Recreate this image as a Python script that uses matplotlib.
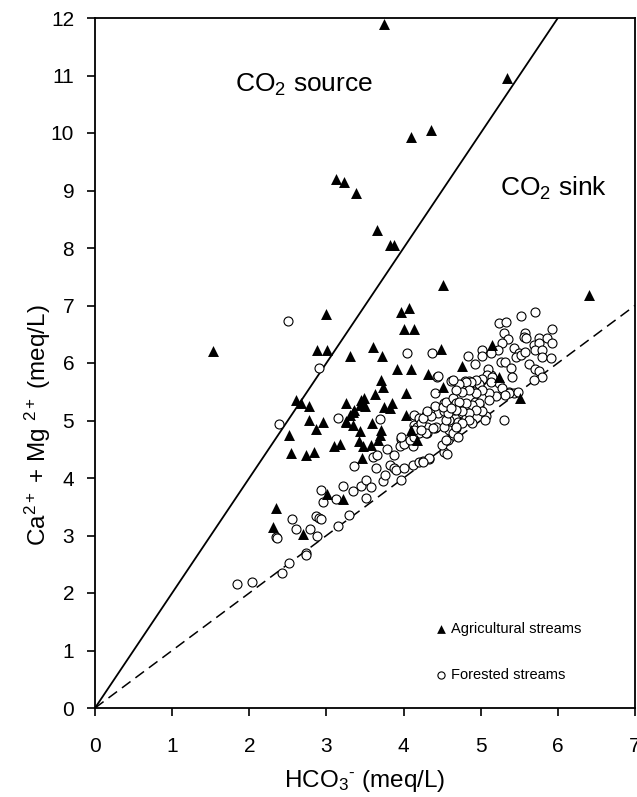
import matplotlib
matplotlib.use("Agg")
import matplotlib.pyplot as plt
import numpy as np

plt.rcParams['font.family'] = ['Liberation Sans', 'DejaVu Sans']
plt.rcParams['mathtext.fontset'] = 'custom'
plt.rcParams['mathtext.rm'] = 'Liberation Sans'
plt.rcParams['mathtext.it'] = 'Liberation Sans:italic'
plt.rcParams['mathtext.bf'] = 'Liberation Sans:bold'

# Agricultural streams (HCO3-, Ca2+ + Mg2+) in meq/L
agri_x = [3.75, 5.34, 4.36, 4.09, 3.13, 3.23, 3.38, 3.66, 3.82, 3.88,
          4.51, 6.40, 3.00, 3.97, 4.07, 4.01, 4.14, 1.53, 2.88, 3.01,
          3.30, 3.61, 3.72, 4.49, 5.14, 3.92, 4.09, 4.32, 4.76, 5.24,
          3.71, 3.73, 4.51, 4.03, 3.63, 5.51, 2.61, 2.67, 2.78, 3.26,
          3.45, 3.49, 3.43, 3.50, 3.75, 3.85, 3.82, 3.34, 3.30, 4.03,
          2.78, 2.95, 2.86, 3.26, 3.34, 3.59, 3.43, 3.71, 3.69, 4.10,
          2.51, 2.54, 2.74, 2.84, 3.10, 3.18, 3.42, 3.48, 3.58, 3.67,
          3.46, 4.17, 3.01, 3.22, 2.34, 2.31, 2.69, 3.36, 3.25]
agri_y = [11.90, 10.96, 10.05, 9.93, 9.20, 9.15, 8.96, 8.31, 8.05, 8.05,
          7.36, 7.18, 6.85, 6.88, 6.95, 6.59, 6.59, 6.21, 6.23, 6.23,
          6.12, 6.28, 6.13, 6.24, 6.31, 5.89, 5.89, 5.81, 5.95, 5.76,
          5.70, 5.58, 5.59, 5.47, 5.46, 5.40, 5.36, 5.31, 5.25, 5.31,
          5.36, 5.39, 5.27, 5.25, 5.24, 5.30, 5.21, 5.15, 5.10, 5.10,
          5.01, 4.98, 4.86, 4.98, 4.92, 4.96, 4.81, 4.83, 4.75, 4.84,
          4.75, 4.44, 4.40, 4.46, 4.56, 4.60, 4.64, 4.55, 4.57, 4.66,
          4.34, 4.66, 3.73, 3.63, 3.47, 3.14, 3.03, 5.18, 5.00]

# Forested streams
forest_pts = [
    (1.84, 2.16), (2.03, 2.19), (2.42, 2.35), (2.52, 2.52), (2.73, 2.69), (2.74, 2.66),
    (2.35, 2.97), (2.36, 2.95), (2.55, 3.28), (2.60, 3.11), (2.79, 3.11), (2.88, 2.99),
    (2.87, 3.34), (2.90, 3.31), (2.93, 3.28), (2.93, 3.79), (2.96, 3.59), (3.13, 3.64),
    (3.15, 3.16), (3.29, 3.36), (3.21, 3.86), (3.34, 3.78), (3.45, 3.86), (3.51, 3.97),
    (3.58, 3.84), (3.51, 3.66),
    (2.50, 6.73), (2.90, 5.91), (2.39, 4.94), (4.05, 6.18), (4.37, 6.17), (4.43, 5.76),
    (4.41, 5.47), (3.15, 5.04), (3.70, 5.02),
    (3.36, 4.21), (3.64, 4.17), (3.73, 3.94), (3.76, 4.05), (3.82, 4.23), (3.88, 4.17),
    (3.90, 4.14), (4.01, 4.17), (3.97, 3.97), (4.12, 4.23), (4.20, 4.28), (4.25, 4.30),
    (4.33, 4.33), (3.60, 4.37), (3.66, 4.40), (3.79, 4.50), (3.88, 4.40), (3.97, 4.67),
    (3.95, 4.55), (4.01, 4.60), (4.12, 4.55), (4.08, 4.66), (4.14, 4.72), (3.97, 4.72),
    (4.13, 5.10), (4.14, 4.92), (4.20, 4.79), (4.31, 4.79), (4.41, 4.87), (4.20, 5.04),
    (4.29, 5.10), (4.38, 5.16), (4.44, 5.13), (4.41, 5.25), (4.53, 5.30), (4.64, 5.30),
    (4.53, 4.46), (4.56, 4.42), (4.50, 4.57), (4.57, 4.66), (4.64, 4.75), (4.59, 4.83),
    (4.68, 4.87), (4.70, 4.98), (4.59, 5.01), (4.53, 5.16), (4.59, 5.20), (4.66, 5.18),
    (4.18, 4.89), (4.14, 4.83), (4.25, 4.87), (4.31, 4.89), (4.42, 4.89), (4.53, 4.89),
    (4.55, 5.01), (4.57, 5.13), (4.51, 5.24), (4.55, 5.33), (4.35, 5.07), (4.23, 4.95),
    (4.25, 5.04), (4.29, 4.78), (4.23, 4.84), (4.64, 4.78), (4.70, 4.72), (4.55, 4.66),
    (4.33, 4.35), (4.25, 4.28), (4.38, 4.87), (4.31, 5.16),
    (4.44, 5.77), (4.61, 5.69), (4.79, 5.68), (4.85, 5.68), (4.92, 5.65), (5.00, 5.68),
    (5.07, 5.74), (5.13, 5.79), (5.17, 5.70), (5.24, 5.65), (5.37, 5.50), (5.43, 5.47),
    (5.30, 5.01), (5.07, 5.07), (5.05, 5.01),
    (4.64, 5.39), (4.68, 5.30), (4.72, 5.21), (4.76, 5.13), (4.81, 5.04), (4.89, 4.95),
    (4.92, 5.33), (4.98, 5.27),
    (5.70, 6.89), (5.52, 6.81), (5.24, 6.69), (5.33, 6.72), (5.93, 6.59), (5.30, 6.53),
    (5.58, 6.52), (5.56, 6.46), (5.59, 6.43), (5.35, 6.41), (5.75, 6.43), (5.86, 6.43),
    (5.92, 6.35), (5.28, 6.34), (5.22, 6.23), (5.02, 6.23), (5.02, 6.12), (5.13, 6.17),
    (5.43, 6.26), (5.50, 6.17), (5.46, 6.11), (5.52, 6.14), (5.58, 6.20), (5.69, 6.31),
    (5.75, 6.34), (5.70, 6.23), (5.80, 6.23), (5.79, 6.11), (5.91, 6.08), (4.83, 6.12),
    (4.92, 5.98), (5.26, 6.02), (5.32, 6.02), (5.39, 5.92), (5.63, 5.98), (5.71, 5.90),
    (5.75, 5.86), (5.80, 5.76), (5.69, 5.70), (5.09, 5.89), (5.08, 5.79), (5.15, 5.76),
    (5.13, 5.67), (5.41, 5.76), (5.02, 5.73), (4.98, 5.64), (4.94, 5.70), (4.87, 5.67),
    (4.81, 5.67), (4.72, 5.64), (4.64, 5.70), (5.28, 5.56), (5.37, 5.47), (5.48, 5.50),
    (5.32, 5.44), (5.20, 5.42), (5.11, 5.47), (5.02, 5.53), (4.94, 5.47), (4.85, 5.53),
    (4.76, 5.50), (4.68, 5.53), (5.11, 5.36), (4.98, 5.30), (4.89, 5.27), (4.81, 5.30),
    (4.72, 5.33), (5.02, 5.16), (4.94, 5.19), (4.85, 5.13), (4.76, 5.16), (4.68, 5.19),
    (4.61, 5.22), (4.85, 5.01), (4.76, 4.95), (4.68, 4.89),
]
forest_x = [p[0] for p in forest_pts]
forest_y = [p[1] for p in forest_pts]

# Reference lines: CO2 source/sink boundary (slope 2) and 1:1 line
src_x = [0, 6]
src_y = [0, 12]
one_x = [0, 7]
one_y = [0, 7]

x_ticks = [0, 1, 2, 3, 4, 5, 6, 7]
y_ticks = list(range(0, 13))

fig = plt.figure(figsize=(6.37, 7.97), dpi=100)
ax = fig.add_axes([95/637, 89/797, 540/637, 690/797])

ax.plot(src_x, src_y, color='black', lw=1.3, zorder=1)
ax.plot(one_x, one_y, color='black', lw=1.1, ls=(0, (7, 4)), zorder=1)

ax.scatter(forest_x, forest_y, marker='o', s=42, facecolors='white',
           edgecolors='black', linewidths=0.8, zorder=2, label='Forested streams')
ax.scatter(agri_x, agri_y, marker='^', s=62, color='black', linewidths=0,
           zorder=3, label='Agricultural streams')

ax.set_xlim(0, 7)
ax.set_ylim(0, 12)
ax.set_xticks(x_ticks)
ax.set_yticks(y_ticks)
ax.tick_params(direction='out', length=6, width=1.2, labelsize=15)
ax.tick_params(axis='x', pad=15)
ax.tick_params(axis='y', pad=9)
for s in ax.spines.values():
    s.set_linewidth(1.3)

ax.set_xlabel(r'HCO$_3$$^{\text{-}}$ (meq/L)', fontsize=17.5)
ax.set_ylabel(r'Ca$^{2+}$ + Mg $^{2+}$ (meq/L)', fontsize=17.5)
ax.xaxis.set_label_coords(0.5, -0.087)
ax.yaxis.set_label_coords(-0.078, 0.41)

ax.text(1.81, 10.83, r'CO$_2$ source', fontsize=19, va='center', ha='left')
ax.text(5.25, 9.04, r'CO$_2$ sink', fontsize=19, va='center', ha='left')

h, l = ax.get_legend_handles_labels()
ax.legend(h[::-1], l[::-1], loc='upper left', bbox_to_anchor=(0.63, 0.125),
          frameon=False, fontsize=10.5, labelspacing=2.2, handlelength=0.8,
          handletextpad=0.3, borderpad=0, borderaxespad=0, markerscale=0.8)

fig.savefig('out.png', dpi=100)
